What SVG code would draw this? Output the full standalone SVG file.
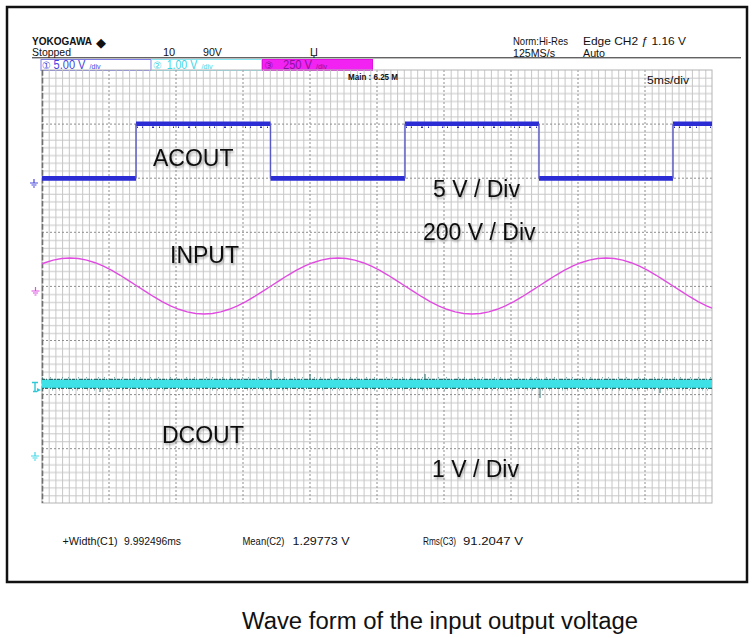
<svg xmlns="http://www.w3.org/2000/svg" width="754" height="638" viewBox="0 0 754 638">
<style>
.hdr{font-family:"Liberation Sans","DejaVu Sans",sans-serif;font-size:11px;fill:#111}
.lbl{font-family:"Liberation Sans",Arial,sans-serif;font-size:23px;fill:#111}
.meas{font-family:"Liberation Sans","DejaVu Sans",sans-serif;font-size:10.5px;fill:#111}
.cap{font-family:"Liberation Sans",Arial,sans-serif;font-size:23px;fill:#111}
.maj{stroke:#8e8e8e;stroke-width:1;stroke-dasharray:2 2;fill:none}
.mn{stroke:#c6c6c6;stroke-width:1;fill:none}
</style>
<defs>
<pattern id="vmin" x="42" y="0" width="67" height="40" patternUnits="userSpaceOnUse">
<path class="mn" d="M7.2,0V40 M13.9,0V40 M20.6,0V40 M27.3,0V40 M34,0V40 M40.7,0V40 M47.4,0V40 M54.1,0V40 M60.8,0V40"/>
</pattern>
<pattern id="hmin" x="0" y="70" width="40" height="54.125" patternUnits="userSpaceOnUse">
<path class="mn" d="M0,8.23H40 M0,15.96H40 M0,23.7H40 M0,31.43H40 M0,39.16H40 M0,46.89H40"/>
</pattern>
<g id="gnd"><path d="M4,0V4 M0,4H8 M1.5,6H6.5 M3,8H5" stroke="currentColor" fill="none" stroke-width="1.2"/></g>
<filter id="sh" x="-10%" y="-30%" width="130%" height="170%">
<feGaussianBlur in="SourceAlpha" stdDeviation="1.3"/>
<feOffset dx="1" dy="1.5" result="b"/>
<feFlood flood-color="#000" flood-opacity="0.3"/>
<feComposite in2="b" operator="in"/>
<feMerge><feMergeNode/><feMergeNode in="SourceGraphic"/></feMerge>
</filter>
</defs>
<rect x="0" y="0" width="754" height="638" fill="#fff"/>
<rect id="frame" x="7" y="7" width="740" height="575" fill="none" stroke="#111" stroke-width="2.5"/>

<g id="header">
<text x="32" y="45" class="hdr" style="font-weight:bold;font-size:10.5px" textLength="60" lengthAdjust="spacingAndGlyphs">YOKOGAWA</text>
<text x="96" y="47" class="hdr" style="font-size:13px">◆</text>
<text x="32" y="56" class="hdr" textLength="39" lengthAdjust="spacingAndGlyphs">Stopped</text>
<text x="163" y="56" class="hdr">10</text>
<text x="203" y="56" class="hdr" textLength="19" lengthAdjust="spacingAndGlyphs">90V</text>
<text x="310" y="56" class="hdr">Џ</text>
<text x="513" y="45" class="hdr" textLength="55" lengthAdjust="spacingAndGlyphs">Norm:Hi-Res</text>
<text x="513" y="56.5" class="hdr" textLength="42" lengthAdjust="spacingAndGlyphs">125MS/s</text>
<text x="583" y="45" class="hdr" textLength="103" lengthAdjust="spacingAndGlyphs">Edge CH2 ƒ 1.16 V</text>
<text x="583" y="56.5" class="hdr" textLength="22" lengthAdjust="spacingAndGlyphs">Auto</text>
<line x1="32" y1="57.8" x2="741" y2="57.8" stroke="#222" stroke-width="1"/>
</g>

<g id="ch1box">
<rect x="41" y="59.5" width="110" height="11" fill="#fff" stroke="#7c7ce4" stroke-width="1"/>
<text x="42" y="68.8" class="hdr" style="fill:#4646e0;font-size:10px">①</text>
<text x="53.5" y="69.3" class="hdr" style="fill:#4646e0;font-size:12.5px" textLength="32" lengthAdjust="spacingAndGlyphs">5.00 V</text>
<text x="89.5" y="69" class="hdr" style="fill:#4646e0;font-size:7.5px" textLength="11" lengthAdjust="spacingAndGlyphs">/div</text>
</g>
<g id="ch2box">
<rect x="151.5" y="59.5" width="110" height="11" fill="#fff" stroke="#86e6f0" stroke-width="1"/>
<text x="153" y="68.8" class="hdr" style="fill:#3fd6e6;font-size:10px">②</text>
<text x="166.7" y="69.3" class="hdr" style="fill:#3fd6e6;font-size:12.5px" textLength="30.5" lengthAdjust="spacingAndGlyphs">1.00 V</text>
<text x="201.5" y="69" class="hdr" style="fill:#3fd6e6;font-size:7.5px" textLength="11" lengthAdjust="spacingAndGlyphs">/div</text>
</g>
<g id="ch3box">
<rect x="262.5" y="59.5" width="110" height="11" fill="#f222f2" stroke="#e010e0" stroke-width="1"/>
<text x="264.5" y="68.8" class="hdr" style="fill:#8e10a0;font-size:10px">③</text>
<text x="283" y="69.3" class="hdr" style="fill:#8e10a0;font-size:12.5px" textLength="29" lengthAdjust="spacingAndGlyphs">250 V</text>
<text x="316" y="69" class="hdr" style="fill:#8e10a0;font-size:7.5px" textLength="11" lengthAdjust="spacingAndGlyphs">/div</text>
</g>

<g id="grid">
<rect x="42" y="70" width="670" height="433" fill="url(#vmin)"/>
<rect x="42" y="70" width="670" height="433" fill="url(#hmin)"/>
<path class="maj" d="M109,70V503 M176,70V503 M243,70V503 M310,70V503 M377,70V503 M444,70V503 M511,70V503 M578,70V503 M645,70V503 M42,124.1H712 M42,178.2H712 M42,232.3H712 M42,286.4H712 M42,340.5H712 M42,394.6H712 M42,448.7H712"/>
<rect x="42" y="70" width="670" height="433" fill="none" stroke="#b4b4b4" stroke-width="1"/>
<line x1="42.5" y1="70" x2="42.5" y2="503" stroke="#707070" stroke-width="1.6" stroke-dasharray="5.7 2"/>
<text x="348" y="80" class="hdr" style="font-weight:bold;font-size:8.5px" textLength="50" lengthAdjust="spacingAndGlyphs">Main : 6.25 M</text>
<text x="647" y="84" class="hdr" textLength="42" lengthAdjust="spacingAndGlyphs">5ms/div</text>
</g>

<g id="markers">
<use href="#gnd" x="30" y="179" style="color:#4a4ae0"/>
<use href="#gnd" x="31.5" y="287" style="color:#e050e0"/>
<use href="#gnd" x="31" y="452" style="color:#40d8e8"/>
<path d="M32,382.5H38 M35,382.5V391.5 M33,391.5H37" stroke="#30c8d8" stroke-width="1.4" fill="none"/>
<path d="M37,388 L41,390 L37,392Z" fill="#30c8d8"/>
</g>

<g id="traces">
<g id="acout">
<path d="M42,178.4H136 M270.5,178.4H405 M539,178.4H673" stroke="#2c2cd4" stroke-width="4.6" fill="none"/>
<path d="M136,123.7H270.5 M405,123.7H539 M673,123.7H712" stroke="#2c2cd4" stroke-width="4.6" fill="none"/>
<path d="M136,123.7V178.4 M270.5,123.7V178.4 M405,123.7V178.4 M539,123.7V178.4 M673,123.7V178.4" stroke="#5858c8" stroke-width="1.4" fill="none"/>
<path d="M137,127.2H270 M406,127.2H538 M674,127.2H712" stroke="#3030b0" stroke-width="1.5" stroke-dasharray="1 4 1 9 2 5 1 13" fill="none"/>
</g>
<polyline id="input" fill="none" stroke="#e04ce0" stroke-width="1.4" points="42,263.8 44.875,262.72 53.25,260.13 61.625,258.54 70,258 78.375,258.54 86.75,260.13 95.125,262.72 103.5,266.2 111.875,270.44 120.25,275.28 128.625,280.54 137,286 145.375,291.46 153.75,296.72 162.125,301.56 170.5,305.8 178.875,309.28 187.25,311.87 195.625,313.46 204,314 212.375,313.46 220.75,311.87 229.125,309.28 237.5,305.8 245.875,301.56 254.25,296.72 262.625,291.46 271,286 279.375,280.54 287.75,275.28 296.125,270.44 304.5,266.2 312.875,262.72 321.25,260.13 329.625,258.54 338,258 346.375,258.54 354.75,260.13 363.125,262.72 371.5,266.2 379.875,270.44 388.25,275.28 396.625,280.54 405,286 413.375,291.46 421.75,296.72 430.125,301.56 438.5,305.8 446.875,309.28 455.25,311.87 463.625,313.46 472,314 480.375,313.46 488.75,311.87 497.125,309.28 505.5,305.8 513.875,301.56 522.25,296.72 530.625,291.46 539,286 547.375,280.54 555.75,275.28 564.125,270.44 572.5,266.2 580.875,262.72 589.25,260.13 597.625,258.54 606,258 614.375,258.54 622.75,260.13 631.125,262.72 639.5,266.2 647.875,270.44 656.25,275.28 664.625,280.54 673,286 681.375,291.46 689.75,296.72 698.125,301.56 706.5,305.8 712,308.2"/>
<g id="dcout">
<rect x="42" y="379.5" width="670" height="8.5" fill="#3ee2e6"/>
<path d="M42,379.3H712" stroke="#2b7070" stroke-width="1.3" stroke-dasharray="3 1 1 2 4 1 2 1" fill="none"/>
<path d="M42,388.4H712" stroke="#2b7070" stroke-width="1.3" stroke-dasharray="2 1 3 2 1 1 4 2" fill="none"/>
<path d="M42,377.8H712" stroke="#2b7070" stroke-width="0.8" stroke-dasharray="1 7 1 11 1 5 1 9" fill="none"/>
<path d="M42,389.9H712" stroke="#2b7070" stroke-width="0.8" stroke-dasharray="1 9 1 6 1 12 1 4" fill="none"/>
<path d="M271,370V379 M425,374V379 M540,388V398 M310,374V379 M660,388V393 M100,388V392" stroke="#2b7070" stroke-width="1" fill="none"/>
</g>
</g>

<g id="labels" filter="url(#sh)">
<text x="153" y="166" class="lbl">ACOUT</text>
<text x="433" y="197" class="lbl">5 V / Div</text>
<text x="423" y="240" class="lbl">200 V / Div</text>
<text x="170" y="263" class="lbl">INPUT</text>
<text x="162" y="443" class="lbl">DCOUT</text>
<text x="432" y="477" class="lbl">1 V / Div</text>
</g>

<g id="measurements">
<text x="62.5" y="545" class="meas" textLength="55" lengthAdjust="spacingAndGlyphs">+Width(C1)</text>
<text x="124" y="545" class="meas" textLength="57" lengthAdjust="spacingAndGlyphs">9.992496ms</text>
<text x="242.5" y="545" class="meas" textLength="42" lengthAdjust="spacingAndGlyphs">Mean(C2)</text>
<text x="292.5" y="545" class="meas" textLength="57" lengthAdjust="spacingAndGlyphs">1.29773 V</text>
<text x="423" y="545" class="meas" textLength="33" lengthAdjust="spacingAndGlyphs">Rms(C3)</text>
<text x="463" y="545" class="meas" textLength="60" lengthAdjust="spacingAndGlyphs">91.2047 V</text>
</g>

<text id="caption" x="242" y="629" class="cap" textLength="396" lengthAdjust="spacingAndGlyphs">Wave form of the input output voltage</text>
</svg>
